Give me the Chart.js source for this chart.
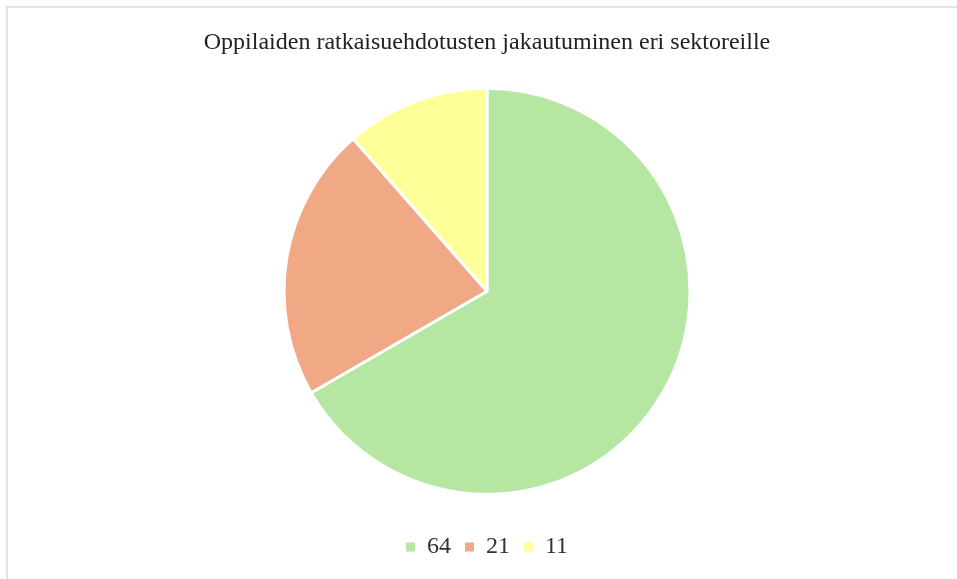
<!DOCTYPE html>
<html>
<head>
<meta charset="utf-8">
<script src="https://cdn.jsdelivr.net/npm/chart.js@4"></script>
<style>
  body { margin: 0; background: #fff; }
  .frame { position: absolute; left: 6px; top: 6px; width: 1000px; height: 600px;
           border-left: 2px solid #e3e3e3; border-top: 2px solid #e3e3e3; }
  .wrap { position: absolute; left: 0; top: 0; width: 957px; height: 579px; }
</style>
</head>
<body>
<div class="frame"></div>
<div class="wrap"><canvas id="c"></canvas></div>
<script>
const titleText = 'Oppilaiden ratkaisuehdotusten jakautuminen eri sektoreille'
const labels = ['64', '21', '11']
const values = [64, 21, 11]
const colors = ['#b5e6a2', '#f0a984', '#ffff99']

new Chart(
  document.getElementById('c'),
  {
    type: 'pie',
    data: {
      labels: labels,
      datasets: [
        {
          data: values,
          backgroundColor: colors,
          borderColor: '#ffffff',
          borderWidth: 3
        }
      ]
    },
    options: {
      responsive: true,
      maintainAspectRatio: false,
      animation: false,
      layout: {
        padding: { left: 17, right: 0, top: 0, bottom: 10 }
      },
      plugins: {
        title: {
          display: true,
          text: titleText,
          color: '#222',
          font: { family: '"Liberation Serif", serif', size: 24, weight: 'normal' },
          padding: { top: 28, bottom: 30 }
        },
        legend: {
          position: 'bottom',
          // empty legend title only used as spacing above the items
          title: {
            display: true,
            text: '',
            font: { size: 1 },
            padding: { top: 24, bottom: 0 }
          },
          labels: {
            usePointStyle: true,
            pointStyle: 'rect',
            boxWidth: 9,
            boxHeight: 9,
            color: '#333',
            padding: 14,
            font: { family: '"Liberation Serif", serif', size: 24 },
            // no white outline on the legend squares
            generateLabels: (chart) => {
              const items = Chart.overrides.pie.plugins.legend.labels.generateLabels(chart)
              return items.map(item => ({ ...item, lineWidth: 0 }))
            }
          }
        },
        tooltip: { enabled: false }
      }
    }
  }
)
</script>
</body>
</html>
